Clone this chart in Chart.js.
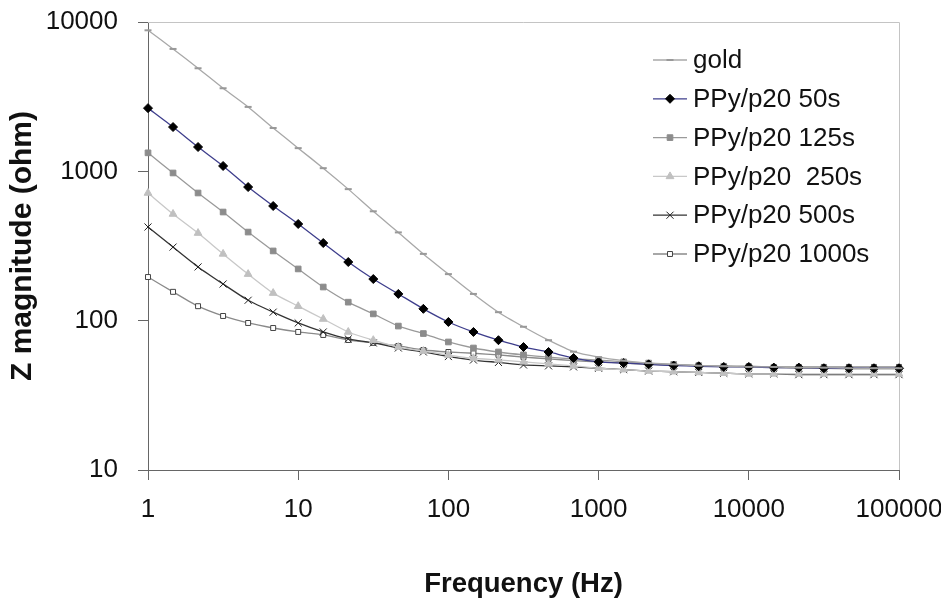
<!DOCTYPE html>
<html>
<head>
<meta charset="utf-8">
<script src="https://cdn.jsdelivr.net/npm/chart.js"></script>
<style>
  body { margin: 0; background: #fff; }
  #wrap { width: 941px; height: 611px; }
</style>
</head>
<body>
<div id="wrap"><canvas id="zChart" width="941" height="611"></canvas></div>
<script>
// frequencies (Hz), 6 points per decade
const freqs = [1, 1.468, 2.154, 3.162, 4.642, 6.813, 10, 14.68, 21.54, 31.62, 46.42, 68.13,
  100, 146.8, 215.4, 316.2, 464.2, 681.3, 1000, 1468, 2154, 3162, 4642, 6813,
  10000, 14680, 21540, 31620, 46420, 68130, 100000];

const gold = [8800, 6600, 4900, 3600, 2700, 1950, 1430, 1050, 760, 540, 390, 280,
  205, 151, 114, 91, 74, 62, 57, 54, 52, 51, 50, 49.5, 49, 49, 48.5, 48.5, 48, 48, 48];
const ppy50 = [2650, 1980, 1455, 1086, 785, 586, 444, 331, 247, 190, 151, 120,
  98, 84, 74, 66.6, 61.7, 56.2, 53, 52, 51, 50, 49.5, 49, 49, 48.5, 48.5, 48, 48, 48, 48];
const ppy125 = [1330, 975, 716, 534, 392, 293, 222, 168, 133, 111, 92, 82,
  72, 65.6, 61.7, 59, 57, 55.5, 54.5, 53, 52, 51, 50, 49.5, 49, 48.5, 48, 48, 47.5, 47.5, 47.5];
const ppy250 = [716, 518, 386, 280, 205, 153, 125, 102.6, 84, 74, 66.6, 62.6,
  58.8, 56, 54.6, 53, 51.3, 49.8, 48, 47, 46, 45.5, 45, 44.5, 44, 44, 44, 44, 44, 44, 44];
const ppy500 = [424, 311, 229, 176, 137, 114, 96.5, 84, 75.4, 70.9, 65.6, 61.7,
  57.5, 54.5, 52.5, 50.5, 49.8, 49, 48, 47, 46, 45.5, 45, 44.5, 44, 44, 43.5, 43.5, 43.5, 43.5, 43.5];
const ppy1000 = [196, 156, 125, 107.5, 96.5, 89.3, 84, 80.2, 74.2, 71, 67.7, 63.6,
  61.7, 60.5, 59, 57, 55.5, 54, 53, 52, 51, 50.5, 50, 49.5, 49.5, 49, 49, 49, 49, 49, 49];

const seriesNames = ['gold', 'PPy/p20 50s', 'PPy/p20 125s', 'PPy/p20  250s', 'PPy/p20 500s', 'PPy/p20 1000s'];
const xTicks = [1, 10, 100, 1000, 10000, 100000];
const yTicks = [10, 100, 1000, 10000];

const FONT = "'Liberation Sans', Arial, sans-serif";

function pts(values) {
  return freqs.map((f, i) => ({ x: f, y: values[i] }));
}

const styles = [
  { line: '#a8a8a8', pointStyle: 'line', radius: 3.5, fill: '#999', border: '#999', bw: 2 },
  { line: '#3e3e8c', pointStyle: 'rectRot', radius: 4.5, fill: '#000', border: '#000', bw: 1 },
  { line: '#9a9a9a', pointStyle: 'rect', radius: 4, fill: '#8c8c8c', border: '#8c8c8c', bw: 1 },
  { line: '#c8c8c8', pointStyle: 'triangle', radius: 4.5, fill: '#c0c0c0', border: '#c0c0c0', bw: 1 },
  { line: '#333', pointStyle: 'crossRot', radius: 5, fill: '#222', border: '#222', bw: 1 },
  { line: '#8a8a8a', pointStyle: 'rect', radius: 3.5, fill: '#fff', border: '#444', bw: 1 }
];

const allValues = [gold, ppy50, ppy125, ppy250, ppy500, ppy1000];

const datasets = allValues.map((vals, i) => ({
  label: seriesNames[i],
  data: pts(vals),
  borderColor: styles[i].line,
  borderWidth: 1.3,
  pointStyle: styles[i].pointStyle,
  pointRadius: styles[i].radius,
  pointBackgroundColor: styles[i].fill,
  pointBorderColor: styles[i].border,
  pointBorderWidth: styles[i].bw,
  tension: 0.2,
  clip: false
}));

// light grey top / right frame of the plot area
const framePlugin = {
  id: 'frame',
  beforeDatasetsDraw(chart) {
    const { ctx, chartArea: a } = chart;
    ctx.save();
    ctx.strokeStyle = '#c4c4c4';
    ctx.lineWidth = 1;
    ctx.beginPath();
    ctx.moveTo(a.left, a.top + 0.5);
    ctx.lineTo(a.right + 0.5, a.top + 0.5);
    ctx.lineTo(a.right + 0.5, a.bottom);
    ctx.stroke();
    ctx.restore();
  }
};

// legend drawn inside the plot, like the original
const legendPlugin = {
  id: 'insideLegend',
  afterDatasetsDraw(chart) {
    const ctx = chart.ctx;
    const x0 = 653, x1 = 687, tx = 693, y0 = 60, step = 38.8;
    ctx.save();
    chart.data.datasets.forEach((ds, i) => {
      const y = y0 + i * step;
      ctx.strokeStyle = ds.borderColor;
      ctx.lineWidth = 1.3;
      ctx.beginPath();
      ctx.moveTo(x0, y);
      ctx.lineTo(x1, y);
      ctx.stroke();
      ctx.fillStyle = ds.pointBackgroundColor;
      ctx.strokeStyle = ds.pointBorderColor;
      ctx.lineWidth = ds.pointBorderWidth;
      Chart.helpers.drawPoint(ctx, {
        pointStyle: ds.pointStyle, radius: ds.pointRadius, rotation: 0, borderWidth: ds.pointBorderWidth
      }, (x0 + x1) / 2, y);
      ctx.fillStyle = '#111';
      ctx.font = '26px ' + FONT;
      ctx.textAlign = 'left';
      ctx.textBaseline = 'middle';
      ctx.fillText(ds.label, tx, y + 1);
    });
    ctx.restore();
  }
};

new Chart(document.getElementById('zChart').getContext('2d'), {
  type: 'line',
  data: { datasets: datasets },
  options: {
    responsive: false,
    animation: false,
    layout: { padding: { top: 22, right: 42, bottom: 0, left: 0 } },
    plugins: { legend: { display: false }, tooltip: { enabled: false } },
    scales: {
      x: {
        type: 'logarithmic',
        min: 1,
        max: 100000,
        afterBuildTicks: scale => { scale.ticks = xTicks.map(v => ({ value: v })); },
        afterFit: scale => {
          scale.height = 141;
          scale.paddingLeft = 0;
          scale.paddingRight = 0;
        },
        ticks: {
          callback: v => String(v),
          color: '#111',
          font: { family: FONT, size: 26 },
          padding: 14,
          maxRotation: 0
        },
        grid: { drawOnChartArea: false, drawTicks: true, tickLength: 10, color: '#666' },
        border: { display: true, color: '#666', width: 1 },
        title: {
          display: true,
          text: 'Frequency (Hz)',
          color: '#111',
          font: { family: FONT, size: 27.5, weight: 'bold' },
          padding: { top: 0, bottom: 10 }
        }
      },
      y: {
        type: 'logarithmic',
        min: 10,
        max: 10000,
        afterBuildTicks: scale => { scale.ticks = yTicks.map(v => ({ value: v })); },
        afterFit: scale => {
          scale.width = 148;
          scale.paddingTop = 0;
          scale.paddingBottom = 0;
        },
        ticks: {
          callback: v => String(v),
          color: '#111',
          font: { family: FONT, size: 26 },
          padding: 20
        },
        grid: { drawOnChartArea: false, drawTicks: true, tickLength: 10, color: '#666' },
        border: { display: true, color: '#666', width: 1 },
        title: {
          display: true,
          text: 'Z magnitude (ohm)',
          color: '#111',
          font: { family: FONT, size: 30, weight: 'bold' },
          padding: { top: 5, bottom: 0 }
        }
      }
    }
  },
  plugins: [framePlugin, legendPlugin]
});
</script>
</body>
</html>
